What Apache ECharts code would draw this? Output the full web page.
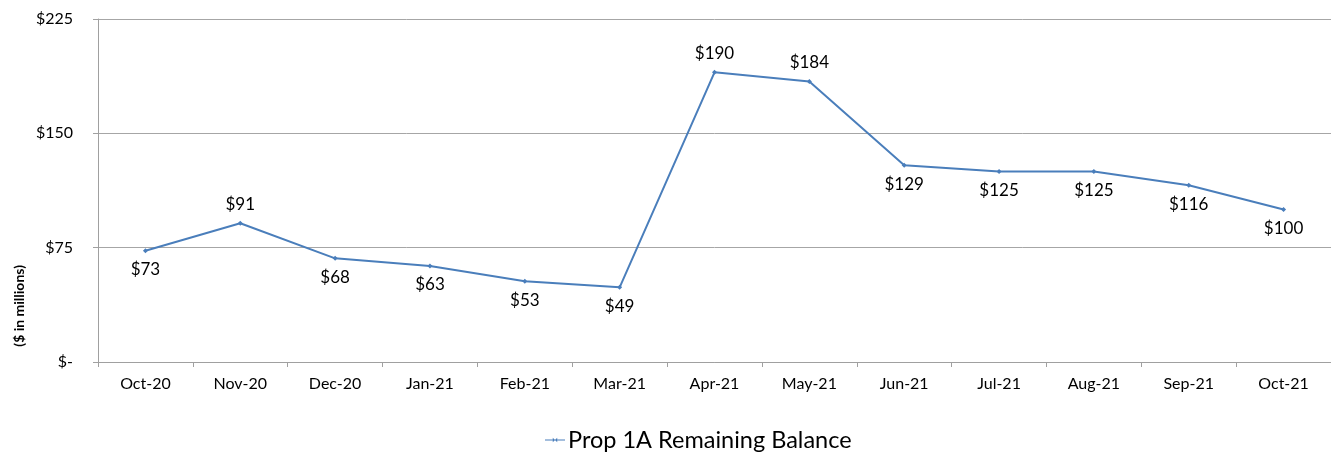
<!DOCTYPE html>
<html><head><meta charset="utf-8">
<script src="https://cdn.jsdelivr.net/npm/echarts@6/dist/echarts.min.js"></script>
<style>html,body{margin:0;padding:0;background:#fff}#c{width:1331px;height:458px}</style>
</head><body><div id="c"></div>
<script>
const categories = ["Oct-20","Nov-20","Dec-20","Jan-21","Feb-21","Mar-21","Apr-21","May-21","Jun-21","Jul-21","Aug-21","Sep-21","Oct-21"];
const balance = [73, 91, 68, 63, 53, 49, 190, 184, 129, 125, 125, 116, 100];
const labelSide = ["bottom","top","bottom","bottom","bottom","bottom","top","top","bottom","bottom","bottom","bottom","bottom"];
const yTicks = [0, 75, 150, 225];
const seriesName = "Prop 1A Remaining Balance";
const axisTitle = "($ in millions)";

const font = "Lato, 'Open Sans', sans-serif";
const chart = echarts.init(document.getElementById('c'));
chart.setOption({
  animation: false,
  grid: {left: 98, right: 0, top: 19, bottom: 96, containLabel: false},
  legend: {
    bottom: 1, left: 540, itemWidth: 20, itemHeight: 8, itemGap: 0,
    textStyle: {fontFamily: font, fontSize: 23.5, color: '#000', padding: [0,0,0,-2]},
    data: [{name: seriesName, icon: 'path://M0,4L18,4L18,5L0,5Z M7,2.5L9,4.5L11,2.5L11,6.5L9,4.5L7,6.5Z'}]
  },
  graphic: [{
    type: 'text', left: 12, top: 265, rotation: Math.PI / 2,
    style: {text: axisTitle, font: "bold 14px " + font, fill: '#000'}
  }],
  xAxis: {
    type: 'category', data: categories, boundaryGap: true,
    axisLine: {lineStyle: {color: '#a0a0a0'}},
    axisTick: {show: true, length: 5, lineStyle: {color: '#a0a0a0'}},
    axisLabel: {fontFamily: font, fontSize: 16, color: '#000', margin: 14}
  },
  yAxis: {
    type: 'value', min: yTicks[0], max: yTicks[yTicks.length-1], interval: 75,
    axisLine: {show: true, lineStyle: {color: '#a0a0a0'}},
    axisTick: {show: true, length: 5, inside: false, lineStyle: {color: '#a0a0a0'}},
    splitLine: {lineStyle: {color: '#a6a6a6'}},
    axisLabel: {fontFamily: font, fontSize: 16, color: '#000', margin: 25,
      formatter: v => v === 0 ? '$-' : '$' + v}
  },
  series: [{
    name: seriesName, type: 'line',
    data: balance.map((v, i) => ({value: v, label: {position: labelSide[i]}})),
    symbol: 'diamond', symbolSize: 5,
    lineStyle: {color: '#4a7ebb', width: 2},
    itemStyle: {color: '#4a7ebb'},
    label: {show: true, fontFamily: font, fontSize: 17, color: '#000', distance: 8,
      formatter: p => '$' + p.value}
  }]
});
</script></body></html>
